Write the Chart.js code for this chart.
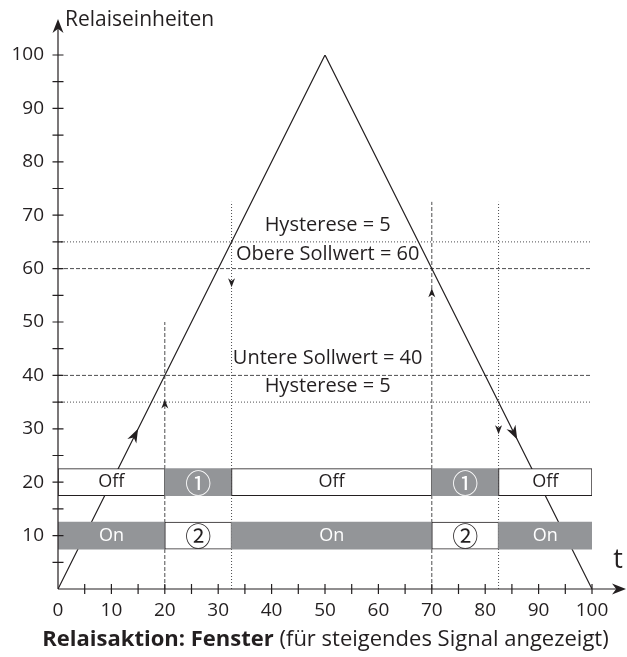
<!DOCTYPE html>
<html>
<head>
<meta charset="utf-8">
<script src="https://cdn.jsdelivr.net/npm/chart.js@4.4.1/dist/chart.umd.min.js"></script>
<style>
  html, body { margin: 0; padding: 0; background: #fff; }
</style>
</head>
<body>
<canvas id="relayChart" width="627" height="657"></canvas>
<script>
// Signal (triangle ramp)
const signalX = [0, 50, 100];
const signalY = [0, 100, 0];

// Setpoints and hysteresis levels
const levelNames = ['Hysterese oben', 'Obere Sollwert', 'Untere Sollwert', 'Hysterese unten'];
const levelValues = [65, 60, 40, 35];

// Switching instants (vertical guide lines)
const switchX = [20, 32.5, 70, 82.5];
const switchTop = [50, 72.5, 72.5, 72.5];

// Relay rows
const relayRows = [20, 10];
const segStart = [0, 20, 32.5, 70, 82.5];
const segEnd = [20, 32.5, 70, 82.5, 100];
const row1Labels = ['Off', '\u2460', 'Off', '\u2460', 'Off'];
const row2Labels = ['On', '\u2461', 'On', '\u2461', 'On'];
const row1Active = [false, true, false, true, false];
const row2Active = [true, false, true, false, true];

// Texts on the levels
const noteText = ['Hysterese = 5', 'Obere Sollwert = 60', 'Untere Sollwert = 40', 'Hysterese = 5'];
const noteX = [50.5, 50.5, 50.5, 50.5];
const noteY = [68.1, 62.7, 43.2, 37.9];

// Direction arrows (tip position + direction in data units)
const arrowX = [15, 86, 20, 32.5, 70, 82.5];
const arrowY = [30, 28, 35.5, 56.5, 56.3, 29];
const arrowDX = [1, 1, 0, 0, 0, 0];
const arrowDY = [2, -2, 1, -1, 1, -1];

const INK = '#231f20';
const GREY = '#939598';
const FONT = '"Open Sans", "Liberation Sans", sans-serif';
const CIRCLE_FONT = '"Noto Sans CJK JP", "DejaVu Sans", sans-serif';

const datasets = [];

// bars first so they are drawn on top
const barData = [], barFill = [], barBorder = [], barWidth = [], barLabels = [], barText = [];
relayRows.forEach((row, r) => {
    const labels = r === 0 ? row1Labels : row2Labels;
    const active = r === 0 ? row1Active : row2Active;
    segStart.forEach((s, i) => {
        barData.push({ x: [s, segEnd[i]], y: row });
        barFill.push(active[i] ? GREY : '#ffffff');
        barBorder.push(active[i] ? GREY : INK);
        barWidth.push(active[i] ? 0 : 1);
        barLabels.push(labels[i]);
        barText.push(active[i] ? '#ffffff' : INK);
    });
});
datasets.push({
    type: 'bar',
    label: 'Relais',
    indexAxis: 'y',
    data: barData,
    backgroundColor: barFill,
    borderColor: barBorder,
    borderWidth: barWidth,
    borderSkipped: false,
    barThickness: 27,
    order: 0
});

datasets.push({
    label: 'Signal',
    data: signalX.map((x, i) => ({ x, y: signalY[i] })),
    showLine: true,
    pointRadius: 0,
    borderColor: INK,
    borderWidth: 1.2,
    order: 2
});

levelValues.forEach((v, i) => {
    const dotted = levelNames[i].startsWith('Hysterese');
    datasets.push({
        label: levelNames[i],
        data: [{ x: 0, y: v }, { x: 100, y: v }],
        showLine: true,
        pointRadius: 0,
        borderColor: '#4d4d4f',
        borderWidth: 1,
        borderDash: dotted ? [1, 2] : [4, 2],
        order: 3
    });
});

switchX.forEach((x, i) => {
    const dotted = i % 2 === 1;
    datasets.push({
        label: 'Schaltpunkt ' + x,
        data: [{ x, y: 0 }, { x, y: switchTop[i] }],
        showLine: true,
        pointRadius: 0,
        borderColor: '#4d4d4f',
        borderWidth: 1,
        borderDash: dotted ? [1, 2] : [4, 2],
        order: 3
    });
});

function arrowHead(ctx, x, y, ang, len, wid) {
    ctx.save();
    ctx.translate(x, y);
    ctx.rotate(ang);
    ctx.beginPath();
    ctx.moveTo(0, 0);
    ctx.lineTo(-len, -wid / 2);
    ctx.lineTo(-len * 0.7, 0);
    ctx.lineTo(-len, wid / 2);
    ctx.closePath();
    ctx.fill();
    ctx.restore();
}

const decor = {
    id: 'decor',
    afterDatasetsDraw(chart) {
        const { ctx, scales: { x, y }, chartArea: a } = chart;
        ctx.save();
        ctx.fillStyle = INK;
        ctx.strokeStyle = INK;
        ctx.lineWidth = 1.2;

        // axes with arrow heads
        ctx.beginPath();
        ctx.moveTo(a.left, a.bottom);
        ctx.lineTo(a.left, 22);
        ctx.moveTo(a.left, a.bottom);
        ctx.lineTo(622, a.bottom);
        ctx.stroke();
        arrowHead(ctx, a.left, 19, -Math.PI / 2, 14, 11);
        arrowHead(ctx, 626, a.bottom, 0, 14, 11);

        // crossing tick marks every 5 units
        ctx.beginPath();
        for (let v = 5; v <= 100; v += 5) {
            const py = y.getPixelForValue(v);
            ctx.moveTo(a.left - 5.5, py);
            ctx.lineTo(a.left + 5.5, py);
            const px = x.getPixelForValue(v);
            ctx.moveTo(px, a.bottom - 5);
            ctx.lineTo(px, a.bottom + 5);
        }
        ctx.stroke();

        // bar labels
        const meta = chart.getDatasetMeta(0);
        ctx.textAlign = 'center';
        ctx.textBaseline = 'middle';
        meta.data.forEach((el, i) => {
            const c = el.getCenterPoint();
            const circled = barLabels[i].length === 1;
            ctx.font = circled ? '26px ' + CIRCLE_FONT : '18px ' + FONT;
            ctx.fillStyle = barText[i];
            ctx.fillText(barLabels[i], c.x, c.y + (circled ? 1 : 0));
        });

        // level notes
        ctx.fillStyle = INK;
        ctx.font = '20px ' + FONT;
        noteText.forEach((t, i) => {
            ctx.fillText(t, x.getPixelForValue(noteX[i]), y.getPixelForValue(noteY[i]));
        });

        // direction arrows
        arrowX.forEach((ax, i) => {
            const px = x.getPixelForValue(ax), py = y.getPixelForValue(arrowY[i]);
            const dx = x.getPixelForValue(ax + arrowDX[i]) - px;
            const dy = y.getPixelForValue(arrowY[i] + arrowDY[i]) - py;
            const big = arrowDX[i] !== 0;
            arrowHead(ctx, px, py, Math.atan2(dy, dx), big ? 14 : 9, big ? 10 : 7);
        });

        // axis titles
        ctx.textAlign = 'left';
        ctx.textBaseline = 'alphabetic';
        ctx.font = '21px ' + FONT;
        ctx.fillText('Relaiseinheiten', 65, 26);
        ctx.font = '27px ' + FONT;
        ctx.textAlign = 'center';
        ctx.fillText('t', 618, 568);

        // caption, bold + regular
        const boldPart = 'Relaisaktion: Fenster';
        const normPart = ' (f\u00fcr steigendes Signal angezeigt)';
        ctx.font = 'bold 22px ' + FONT;
        const wb = ctx.measureText(boldPart).width;
        ctx.font = '22px ' + FONT;
        const wn = ctx.measureText(normPart).width;
        const startX = 325.5 - (wb + wn) / 2;
        ctx.textAlign = 'left';
        ctx.font = 'bold 22px ' + FONT;
        ctx.fillText(boldPart, startX, 646);
        ctx.font = '22px ' + FONT;
        ctx.fillText(normPart, startX + wb, 646);
        ctx.restore();
    }
};

new Chart(document.getElementById('relayChart'), {
    type: 'scatter',
    data: { datasets },
    options: {
        responsive: false,
        animation: false,
        layout: { padding: { top: 55, right: 35, left: 0, bottom: 0 } },
        plugins: { legend: { display: false }, tooltip: { enabled: false } },
        scales: {
            x: {
                type: 'linear', min: 0, max: 100, stacked: false, offset: false,
                afterFit: s => { s.height = 68; },
                grid: { display: false, drawTicks: false, offset: false },
                border: { display: false },
                ticks: { stepSize: 10, padding: 10, color: INK, maxRotation: 0, autoSkip: false, font: { family: FONT, size: 19 } }
            },
            y: {
                type: 'linear', min: 0, max: 100, offset: false,
                afterFit: s => { s.width = 58; },
                grid: { display: false, drawTicks: false, offset: false },
                border: { display: false },
                ticks: { stepSize: 10, padding: 14, color: INK, autoSkip: false, font: { family: FONT, size: 19 },
                    callback: v => v === 0 ? '' : v }
            }
        }
    },
    plugins: [decor]
});
</script>
</body>
</html>
